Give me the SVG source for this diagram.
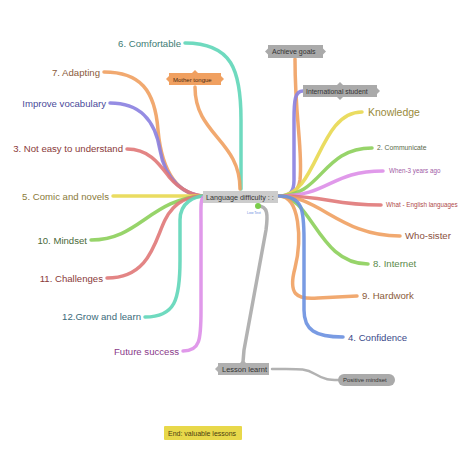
<svg xmlns="http://www.w3.org/2000/svg" width="474" height="455" viewBox="0 0 474 455">
<style>
.c{fill:none;stroke-width:3.5;stroke-linecap:round;stroke-linejoin:round;opacity:0.9}
.t{font-family:"Liberation Sans",Arial,sans-serif}
.lb{font-size:9.6px}
.sm{font-size:7px}
.bx{font-size:7.5px;fill:#333}
.teal{stroke:#5fd6b8}.orange{stroke:#f0a060}.purple{stroke:#8a80e0}.red{stroke:#e07878}
.yellow{stroke:#e8d850}.green{stroke:#8ccf5a}.pink{stroke:#dd8ee8}.blue{stroke:#6a90e0}.gray{stroke:#aaaaaa}
</style>
<rect width="474" height="455" fill="#ffffff"/>
<g id="connectors">
<path class="c teal" d="M185,43 C232,43 241,70 241,120 L241,189"/>
<path class="c orange" d="M195,87 C195,135 240,140 240,189"/>
<path class="c orange" d="M295,59 C295,120 303,150 300,180 C298,193 290,196 280,196"/>
<path class="c purple" d="M303,91 C295,91 294,100 294,120 L294,180 C294,192 290,196 280,196"/>
<path class="c yellow" d="M279,196 C318,196 318,112 362,112"/>
<path class="c green" d="M279,196 C322,196 322,148 372,148"/>
<path class="c pink" d="M279,196 C330,196 330,171 383,171"/>
<path class="c red" d="M279,196 C330,196 330,205 381,205"/>
<path class="c orange" d="M279,196 C320,196 340,236 400,236"/>
<path class="c green" d="M279,196 C312,196 318,264 368,264"/>
<path class="c orange" d="M279,196 C300,196 302,240 295,268 C288,294 296,300 318,298 L357,296"/>
<path class="c blue" d="M279,196 C303,196 304,210 304,240 L304,310 C304,330 315,337 343,337"/>
<path class="c orange" d="M104,72 C140,72 155,90 158,130 C162,175 180,196 205,196"/>
<path class="c purple" d="M110,103 C140,103 155,120 160,150 C165,180 185,196 205,196"/>
<path class="c red" d="M127,149 C150,149 160,165 170,178 C180,190 195,196 205,196"/>
<path class="c yellow" d="M113,196 L205,196"/>
<path class="c green" d="M91,240 C140,240 150,198 205,196"/>
<path class="c red" d="M107,278 C150,278 155,240 165,220 C175,200 190,196 205,196"/>
<path class="c teal" d="M145,317 C175,317 180,300 180,260 L180,220 C180,202 195,196 205,196"/>
<path class="c pink" d="M183,351 C200,351 201,340 201,310 L201,225 C201,205 200,198 205,196"/>
<path class="c gray" d="M258,206 C268,206 268,215 266,230 L244,350 L243,362"/>
<path class="c gray" style="stroke-width:2.5" d="M272,369 C300,369 305,368 315,374 C325,380 330,380 338,380"/>
<circle cx="258" cy="206" r="3" fill="#7acc4a"/>
</g>
<g id="center">
<rect x="203" y="191" width="75" height="12" fill="#cccccc"/>
<text class="t" x="206" y="199.5" font-size="7.2" fill="#333">Language difficulty : :</text>
<text class="t" x="247" y="214" font-size="3.5" fill="#6a90e0">Low Text</text>
</g>
<g id="achieve-goals">
<rect x="268" y="45" width="55" height="13" fill="#aaaaaa"/>
<polygon points="268,48.5 265,51.5 268,54.5" fill="#aaaaaa"/>
<polygon points="323,48.5 326,51.5 323,54.5" fill="#aaaaaa"/>
<text class="t" x="272" y="54" font-size="7" fill="#333">Achieve goals</text>
</g>
<g id="international-student">
<rect x="303" y="85" width="74" height="12" fill="#aaaaaa"/>
<polygon points="377,88 380,91 377,94" fill="#aaaaaa"/>
<polygon points="337,85 340,82 343,85" fill="#aaaaaa"/>
<polygon points="337,97 340,100 343,97" fill="#aaaaaa"/>
<text class="t" x="306" y="93.5" font-size="6.8" fill="#333">International student</text>
</g>
<g id="mother-tongue">
<rect x="169" y="73" width="52" height="12" fill="#f0a060"/>
<polygon points="169,76 166,79 169,82" fill="#f0a060"/>
<polygon points="221,76 224,79 221,82" fill="#f0a060"/>
<polygon points="192,73 195,70 198,73" fill="#f0a060"/>
<text class="t" x="173" y="81.5" font-size="6" fill="#4a2a10">Mother tongue</text>
</g>
<g id="lesson-learnt">
<rect x="218" y="363" width="51" height="12" fill="#b0b0b0"/>
<polygon points="218,366 215,369 218,372" fill="#b0b0b0"/>
<polygon points="240,363 243,360 246,363" fill="#b0b0b0"/>
<text class="t bx" x="222" y="371.5">Lesson learnt</text>
</g>
<g id="positive-mindset">
<rect x="338" y="374" width="57" height="12" rx="6" fill="#aaaaaa"/>
<text class="t" x="343" y="382" font-size="6" fill="#333">Positive mindset</text>
</g>
<g id="end">
<rect x="164" y="426" width="78" height="14" rx="1" fill="#e8d84a"/>
<text class="t" x="168" y="435.5" font-size="7" fill="#4a4010">End: valuable lessons</text>
</g>
<g id="comfortable"><text class="t lb" x="181" y="47" text-anchor="end" fill="#3d7c74">6. Comfortable</text></g>
<g id="adapting"><text class="t lb" x="100" y="76" text-anchor="end" fill="#8a5a3a">7. Adapting</text></g>
<g id="improve-vocabulary"><text class="t lb" x="106" y="107" text-anchor="end" fill="#4a4a9a">Improve vocabulary</text></g>
<g id="not-easy"><text class="t lb" x="123" y="152" text-anchor="end" fill="#8a3a3a">3. Not easy to understand</text></g>
<g id="comic"><text class="t lb" x="109" y="200" text-anchor="end" fill="#8a7a3a">5. Comic and novels</text></g>
<g id="mindset"><text class="t lb" x="87" y="244" text-anchor="end" fill="#4a6a3a">10. Mindset</text></g>
<g id="challenges"><text class="t lb" x="103" y="282" text-anchor="end" fill="#8a3a3a">11. Challenges</text></g>
<g id="grow"><text class="t lb" x="141" y="320" text-anchor="end" fill="#3a6a7a">12.Grow and learn</text></g>
<g id="future"><text class="t lb" x="179" y="355" text-anchor="end" fill="#8a3a8a">Future success</text></g>
<g id="knowledge"><text class="t" x="368" y="116" font-size="10.5" fill="#9a8a3a">Knowledge</text></g>
<g id="communicate"><text class="t" x="377" y="150" font-size="6.8" fill="#5a6a4a">2. Communicate</text></g>
<g id="when"><text class="t" x="389" y="173" font-size="6.3" fill="#a05aa5">When-3 years ago</text></g>
<g id="what"><text class="t" x="386" y="207" font-size="6.3" fill="#b04a4a">What - English languages</text></g>
<g id="who"><text class="t lb" x="405" y="239" fill="#8a5040">Who-sister</text></g>
<g id="internet"><text class="t lb" x="373" y="267" fill="#5a8a4a">8. Internet</text></g>
<g id="hardwork"><text class="t lb" x="362" y="299" fill="#8a5a3a">9. Hardwork</text></g>
<g id="confidence"><text class="t lb" x="348" y="341" fill="#3a4a8a">4. Confidence</text></g>
</svg>
